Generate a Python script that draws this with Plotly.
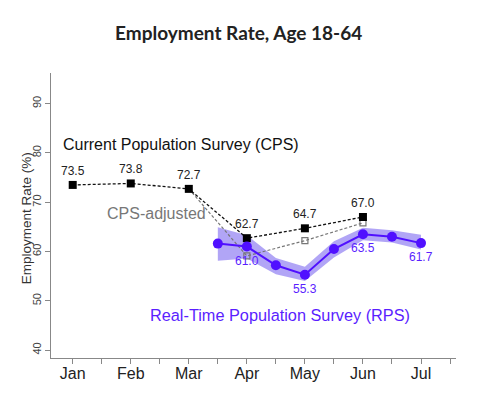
import plotly.graph_objects as go

# ---- data ----
month_ticks = [1, 1.5, 2, 2.5, 3, 3.5, 4, 4.5, 5, 5.5, 6, 6.5, 7, 7.5]
month_labels = ["Jan", "", "Feb", "", "Mar", "", "Apr", "", "May", "", "Jun", "", "Jul", ""]

cps_x = [1, 2, 3, 4, 5, 6]
cps_y = [73.5, 73.8, 72.7, 62.7, 64.7, 67.0]

adj_x = [3, 4, 5, 6]
adj_y = [72.7, 59.1, 62.2, 65.8]

rps_x = [3.5, 4, 4.5, 5, 5.5, 6, 6.5, 7]
rps_y = [61.6, 61.0, 57.2, 55.3, 60.5, 63.5, 63.0, 61.7]
rps_lo = [58.1, 58.6, 55.4, 54.0, 58.8, 62.3, 61.8, 60.4]
rps_hi = [64.9, 63.3, 58.7, 56.9, 62.1, 64.8, 64.3, 63.4]

# labelled points (x, value)
cps_label_x = [1, 2, 3, 4, 5, 6]
cps_label_v = [73.5, 73.8, 72.7, 62.7, 64.7, 67.0]
rps_label_x = [4, 5, 6, 7]
rps_label_v = [61.0, 55.3, 63.5, 61.7]

PURPLE = "#5010ff"
PURPLE_TXT = "#5a1eff"
FONT = "Liberation Sans, Arial, sans-serif"

fig = go.Figure()

# confidence band
fig.add_trace(go.Scatter(x=rps_x, y=rps_hi, mode="lines", line=dict(width=0),
                         hoverinfo="skip", showlegend=False))
fig.add_trace(go.Scatter(x=rps_x, y=rps_lo, mode="lines", line=dict(width=0),
                         fill="tonexty", fillcolor="rgba(120,100,240,0.58)",
                         hoverinfo="skip", showlegend=False))

# CPS-adjusted
fig.add_trace(go.Scatter(x=adj_x, y=adj_y, mode="lines",
                         line=dict(color="#777777", width=1.2, dash="3px,2px"),
                         showlegend=False))
fig.add_trace(go.Scatter(x=adj_x[1:], y=adj_y[1:], mode="markers",
                         marker=dict(symbol="square-open", size=6, color="#777777",
                                     line=dict(width=1.2, color="#777777")),
                         showlegend=False))

# CPS
fig.add_trace(go.Scatter(x=cps_x, y=cps_y, mode="lines+markers",
                         line=dict(color="#111111", width=1.3, dash="3px,2px"),
                         marker=dict(symbol="square", size=8, color="#000000"),
                         showlegend=False))

# RPS
fig.add_trace(go.Scatter(x=rps_x, y=rps_y, mode="lines+markers",
                         line=dict(color=PURPLE, width=2),
                         marker=dict(symbol="circle", size=10, color=PURPLE),
                         showlegend=False))

ann = []
for x, v in zip(cps_label_x, cps_label_v):
    ann.append(dict(x=x, y=v, xref="x", yref="y", text=f"{v:.1f}", showarrow=False,
                    yshift=14, font=dict(family=FONT, size=12, color="#222222")))
for x, v in zip(rps_label_x, rps_label_v):
    ann.append(dict(x=x, y=v, xref="x", yref="y", text=f"{v:.1f}", showarrow=False,
                    yshift=-14, font=dict(family=FONT, size=12, color=PURPLE_TXT)))

ann.append(dict(x=1, y=81.8, xref="x", yref="y", xanchor="left", xshift=-12,
                text="Current Population Survey (CPS)",
                showarrow=False, font=dict(family=FONT, size=16, color="#111111")))
ann.append(dict(x=1.55, y=67.8, xref="x", yref="y", xanchor="left", text="CPS-adjusted",
                showarrow=False, font=dict(family=FONT, size=16, color="#777777")))
ann.append(dict(x=2.3, y=47.2, xref="x", yref="y", xanchor="left", text="Real-Time Population Survey (RPS)",
                showarrow=False, font=dict(family=FONT, size=16.3, color=PURPLE_TXT)))
ann.append(dict(x=0, y=0.49, xref="paper", yref="paper", xanchor="center", yanchor="middle",
                xshift=-25, text="Employment Rate (%)", textangle=-90, showarrow=False,
                font=dict(family=FONT, size=13.5, color="#333333")))

fig.update_layout(
    width=487, height=398,
    margin=dict(l=51, r=31, t=73, b=40),
    paper_bgcolor="white", plot_bgcolor="white",
    title=dict(text="<b>Employment Rate, Age 18-64</b>", x=0.49, xanchor="center",
               y=1 - 33 / 398, yanchor="middle",
               font=dict(family="Lato, Open Sans, sans-serif", size=19, color="#222222")),
    annotations=ann,
    xaxis=dict(range=[0.626, 7.603], tickmode="array", tickvals=month_ticks, ticktext=month_labels,
               showline=True, linecolor="#888888", linewidth=1, ticks="outside", ticklen=5,
               tickcolor="#888888", showgrid=False, zeroline=False, ticklabelstandoff=-4,
               tickfont=dict(family=FONT, size=16, color="#222222")),
    yaxis=dict(range=[38.4, 96.2], tickmode="array", tickvals=[40, 50, 60, 70, 80, 90],
               tickangle=-90, showline=True, linecolor="#888888", linewidth=1, ticks="outside",
               ticklen=5, tickcolor="#888888", showgrid=False, zeroline=False,
               tickfont=dict(family=FONT, size=11, color="#444444")),
)

fig.write_html("out.html", config={"displayModeBar": False})

# remove default browser body margin so the figure sits at the page origin
with open("out.html", "r", encoding="utf-8") as f:
    html = f.read()
html = html.replace("<head>", "<head><style>html,body{margin:0;padding:0;}</style>", 1)
with open("out.html", "w", encoding="utf-8") as f:
    f.write(html)
